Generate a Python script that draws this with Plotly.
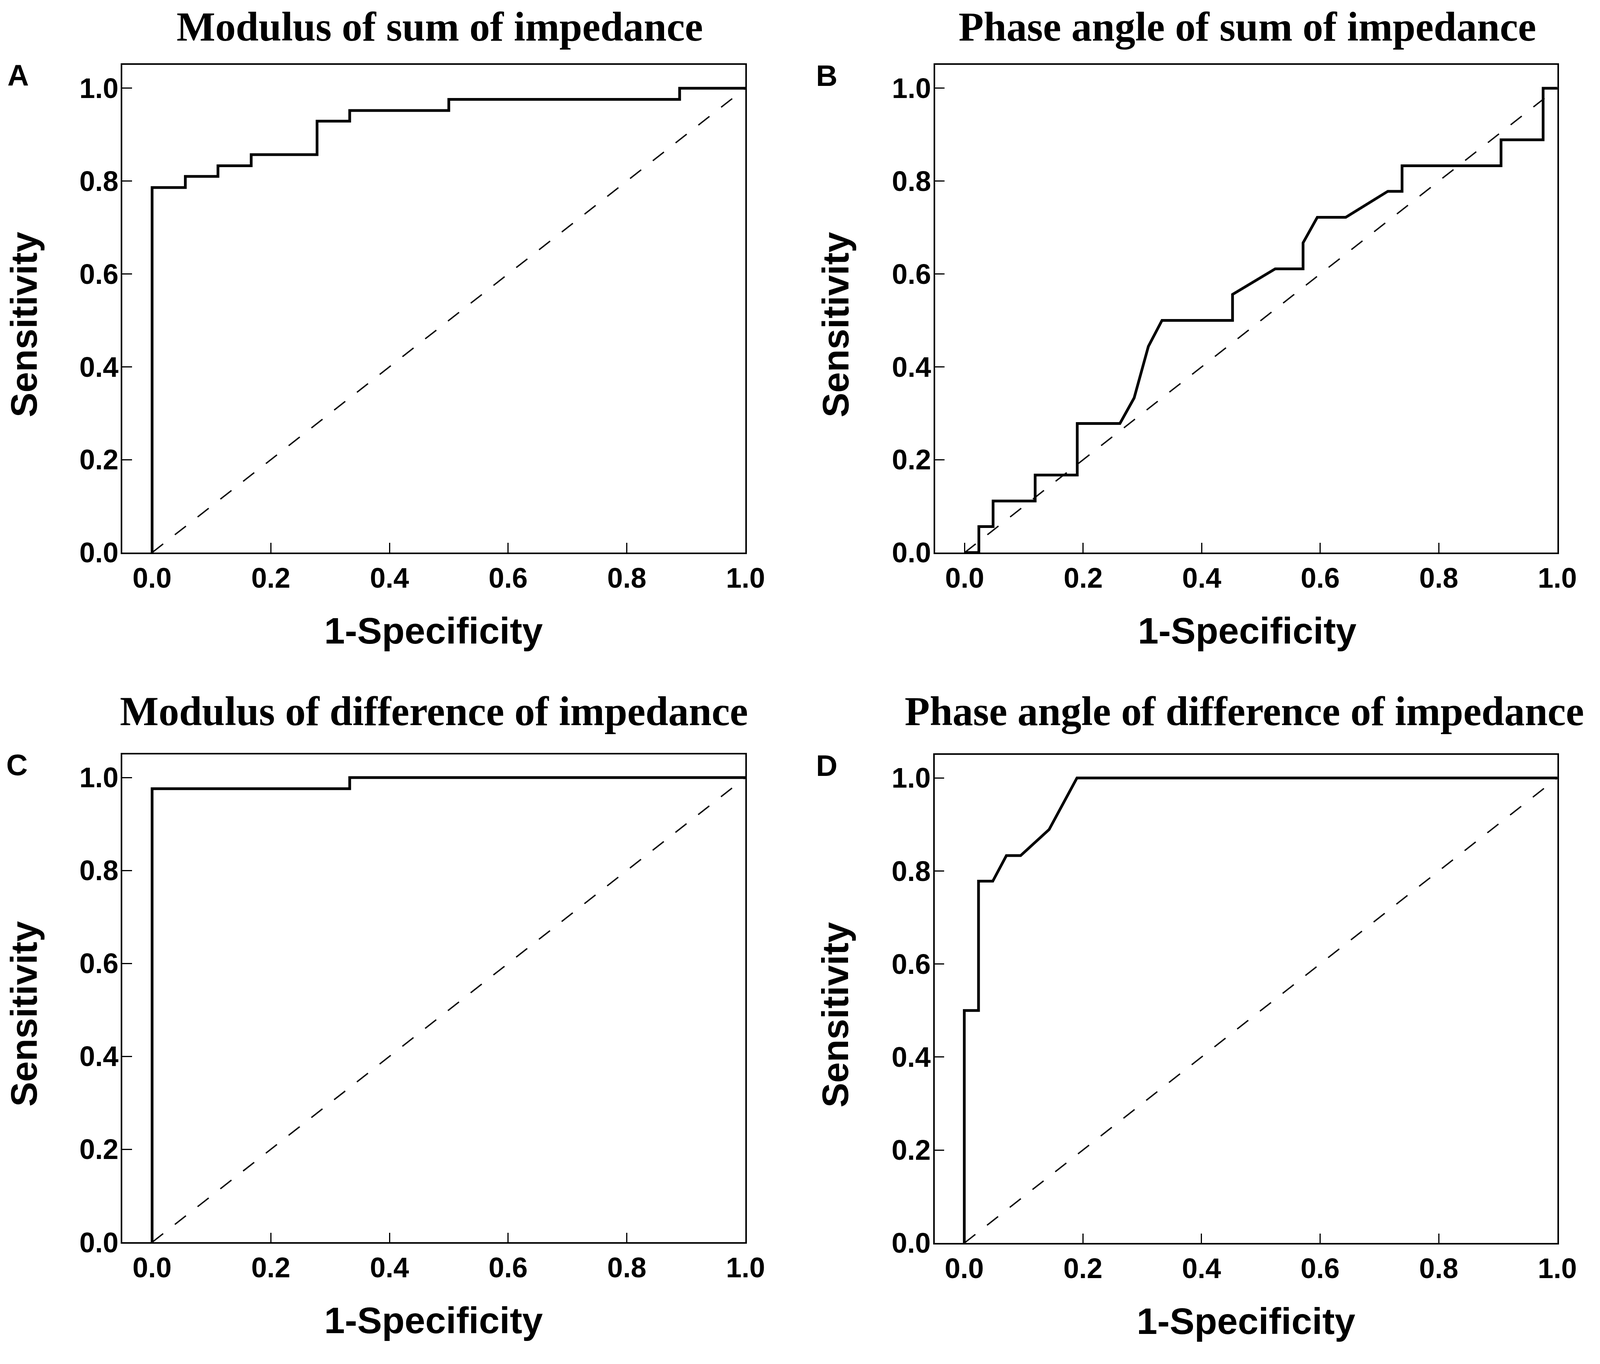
import plotly.graph_objects as go

# panel titles and letters
titles = ["Modulus of sum of impedance", "Phase angle of sum of impedance",
          "Modulus of difference of impedance", "Phase angle of difference of impedance"]
letters = ["A", "B", "C", "D"]

# ROC points (1-specificity, sensitivity)
fpr_a = [0, 0, 0.056, 0.056, 0.111, 0.111, 0.167, 0.167, 0.278, 0.278, 0.333, 0.333, 0.5, 0.5, 0.889, 0.889, 1.0]
tpr_a = [0, 0.786, 0.786, 0.810, 0.810, 0.833, 0.833, 0.857, 0.857, 0.929, 0.929, 0.952, 0.952, 0.976, 0.976, 1.0, 1.0]

fpr_b = [0, 0.024, 0.024, 0.048, 0.048, 0.119, 0.119, 0.190, 0.190, 0.262, 0.286, 0.310, 0.333, 0.452,
         0.452, 0.524, 0.571, 0.571, 0.595, 0.643, 0.714, 0.738, 0.738, 0.905, 0.905, 0.976, 0.976, 1.0]
tpr_b = [0, 0, 0.056, 0.056, 0.111, 0.111, 0.167, 0.167, 0.278, 0.278, 0.333, 0.444, 0.5, 0.5,
         0.556, 0.611, 0.611, 0.667, 0.722, 0.722, 0.778, 0.778, 0.833, 0.833, 0.889, 0.889, 1.0, 1.0]

fpr_c = [0, 0, 0.333, 0.333, 1.0]
tpr_c = [0, 0.976, 0.976, 1.0, 1.0]

fpr_d = [0, 0, 0.024, 0.024, 0.048, 0.071, 0.095, 0.143, 0.190, 1.0]
tpr_d = [0, 0.5, 0.5, 0.778, 0.778, 0.833, 0.833, 0.889, 1.0, 1.0]

chance = [0, 1]
tick_vals = [0.0, 0.2, 0.4, 0.6, 0.8, 1.0]
tick_text = ["0.0", "0.2", "0.4", "0.6", "0.8", "1.0"]

curves = [(fpr_a, tpr_a), (fpr_b, tpr_b), (fpr_c, tpr_c), (fpr_d, tpr_d)]

# reference canvas size, used to turn pixel positions into paper fractions
W, H = 4328, 3493


def fx(p):
    return p / W


def fy(p):
    return 1 - p / H


# plot frames in pixels: (left, right), (top, bottom)
frames = [
    ((328, 2041), (161, 1430)),
    ((2562, 4273), (161, 1430)),
    ((328, 2041), (1955, 3225)),
    ((2561, 4273), (1956, 3227)),
]
# titles are hung from the top of their text box
title_pos = [(1201, 0), (3421, 0), (1185, 1782), (3412, 1782)]
letter_pos = [(41, 187), (2264, 189), (38, 1982), (2264, 1984)]
xlab_pos = [(1183, 1633), (3420, 1633), (1183, 3428), (3417, 3430)]
ylab_pos = [(57, 837), (2288, 837), (57, 2631), (2287, 2633)]

fig = go.Figure()
sans = "Liberation Sans, Arial, sans-serif"
serif = "Liberation Serif, Times New Roman, serif"

annotations = []
for i, (fpr, tpr) in enumerate(curves):
    n = "" if i == 0 else str(i + 1)
    fig.add_trace(go.Scatter(x=chance, y=chance, mode="lines", xaxis="x" + n, yaxis="y" + n,
                             line=dict(color="black", width=3.5, dash="36px,38px"),
                             showlegend=False, hoverinfo="skip"))
    fig.add_trace(go.Scatter(x=fpr, y=tpr, mode="lines", xaxis="x" + n, yaxis="y" + n,
                             line=dict(color="black", width=7), showlegend=False))
    (l, r), (t, b) = frames[i]
    axis_common = dict(showline=True, linecolor="black", linewidth=3.5, mirror=True,
                       ticks="inside", ticklen=25, tickwidth=3, tickcolor="black",
                       showgrid=False, zeroline=False, tickvals=tick_vals, ticktext=tick_text,
                       tickfont=dict(family=sans, size=72, color="black", weight="bold"))
    fig.update_layout(**{
        "xaxis" + n: dict(domain=[fx(l), fx(r)], range=[-0.05, 1.0], anchor="y" + n,
                          ticklabelstandoff=0, **axis_common),
        "yaxis" + n: dict(domain=[fy(b), fy(t)], range=[0, 1.05], anchor="x" + n,
                          ticklabelstandoff=-8, **axis_common),
    })
    tx, ty = title_pos[i]
    annotations.append(dict(text=titles[i], x=fx(tx), y=fy(ty), xref="paper", yref="paper",
                            xanchor="center", yanchor="top", showarrow=False,
                            font=dict(family=serif, size=105, color="black", weight="bold")))
    lx, ly = letter_pos[i]
    annotations.append(dict(text=letters[i], x=fx(lx), y=fy(ly), xref="paper", yref="paper",
                            xanchor="center", yanchor="middle", showarrow=False,
                            font=dict(family=sans, size=76, color="black", weight="bold")))
    ax_, ay_ = xlab_pos[i]
    annotations.append(dict(text="1-Specificity", x=fx(ax_), y=fy(ay_), xref="paper", yref="paper",
                            xanchor="center", yanchor="middle", showarrow=False,
                            font=dict(family=sans, size=95, color="black", weight="bold")))
    bx, by = ylab_pos[i]
    annotations.append(dict(text="Sensitivity", x=fx(bx), y=fy(by), xref="paper", yref="paper",
                            xanchor="center", yanchor="middle", showarrow=False, textangle=-90,
                            font=dict(family=sans, size=95, color="black", weight="bold")))

# no fixed width/height: the figure fills the browser window
fig.update_layout(autosize=True, margin=dict(l=0, r=0, t=0, b=0),
                  paper_bgcolor="white", plot_bgcolor="white", annotations=annotations)

fig.write_html("out.html")
